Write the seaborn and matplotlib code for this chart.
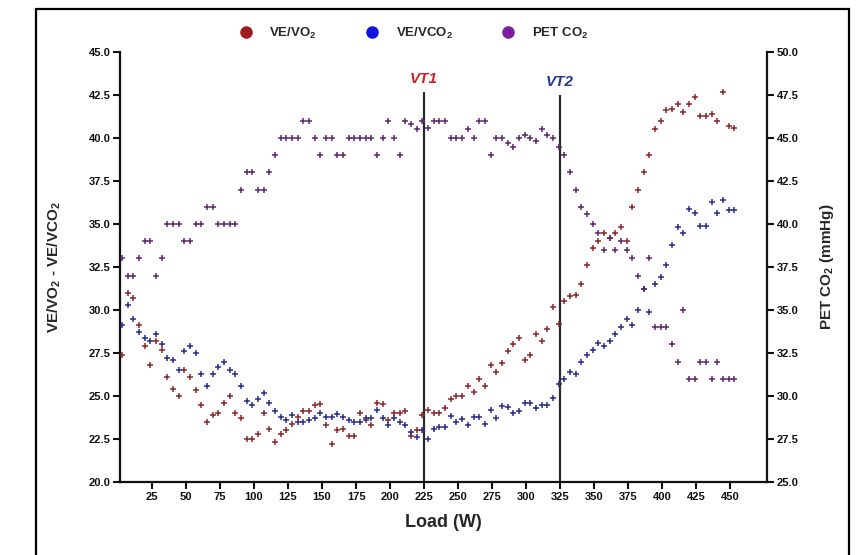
import numpy as np
import pandas as pd
import matplotlib.pyplot as plt
import seaborn as sns
from matplotlib.lines import Line2D
from matplotlib.patches import Rectangle

# Data (one sample roughly every 4 W)
load_w = [3.0, 7.2, 11.3, 15.5, 19.7, 23.8, 28.0, 32.2, 36.3, 40.5,
          44.7, 48.8, 53.0, 57.2, 61.3, 65.5, 69.7, 73.8, 78.0, 82.2,
          86.3, 90.5, 94.7, 98.8, 103.0, 107.2, 111.3, 115.5, 119.7, 123.8,
          128.0, 132.2, 136.3, 140.5, 144.7, 148.8, 153.0, 157.2, 161.3, 165.5,
          169.7, 173.8, 178.0, 182.2, 186.3, 190.5, 194.7, 198.8, 203.0, 207.2,
          211.3, 215.5, 219.7, 223.8, 228.0, 232.2, 236.3, 240.5, 244.7, 248.8,
          253.0, 257.2, 261.3, 265.5, 269.7, 273.8, 278.0, 282.2, 286.3, 290.5,
          294.7, 298.8, 303.0, 307.2, 311.3, 315.5, 319.7, 323.8, 328.0, 332.2,
          336.3, 340.5, 344.7, 348.8, 353.0, 357.2, 361.3, 365.5, 369.7, 373.8,
          378.0, 382.2, 386.3, 390.5, 394.7, 398.8, 403.0, 407.2, 411.3, 415.5,
          419.7, 423.8, 428.0, 432.2, 436.3, 440.5, 444.7, 448.8, 453.0]

ve_vo2 = [27.4, 31.0, 30.7, 29.1, 27.9, 26.8, 28.2, 27.7, 26.1, 25.4,
          25.0, 26.5, 26.1, 25.35, 24.5, 23.5, 23.9, 24.0, 24.6, 25.0,
          24.0, 23.7, 22.5, 22.5, 22.8, 24.0, 23.1, 22.3, 22.8, 23.0,
          23.4, 23.8, 24.1, 24.1, 24.5, 24.55, 23.3, 22.2, 23.0, 23.1,
          22.7, 22.7, 24.0, 23.6, 23.3, 24.6, 24.55, 23.6, 24.0, 24.0,
          24.1, 22.7, 23.05, 23.9, 24.2, 24.0, 24.0, 24.3, 24.8, 25.0,
          25.0, 25.6, 25.25, 26.0, 25.6, 26.8, 26.4, 26.9, 27.6, 28.0,
          28.35, 27.1, 27.4, 28.6, 28.2, 28.9, 30.2, 29.2, 30.5, 30.8,
          30.9, 31.5, 32.6, 33.6, 34.0, 34.5, 34.2, 34.5, 34.8, 34.0,
          36.0, 37.0, 38.0, 39.0, 40.5, 41.0, 41.6, 41.7, 42.0, 41.5,
          42.0, 42.4, 41.3, 41.3, 41.4, 41.0, 42.7, 40.7, 40.6]

ve_vco2 = [29.1, 30.3, 29.5, 28.7, 28.35, 28.2, 28.6, 28.0, 27.2, 27.1,
           26.5, 27.6, 27.9, 27.5, 26.3, 25.6, 26.3, 26.7, 26.95, 26.5,
           26.3, 25.6, 24.7, 24.5, 24.8, 25.2, 24.6, 24.1, 23.8, 23.6,
           23.9, 23.5, 23.5, 23.6, 23.7, 24.0, 23.8, 23.8, 23.95, 23.8,
           23.6, 23.5, 23.5, 23.7, 23.7, 24.2, 23.7, 23.3, 23.7, 23.5,
           23.3, 22.9, 22.6, 23.0, 22.5, 23.1, 23.2, 23.2, 23.85, 23.5,
           23.65, 23.3, 23.8, 23.8, 23.4, 24.2, 23.75, 24.4, 24.35, 24.0,
           24.1, 24.6, 24.6, 24.3, 24.5, 24.5, 24.9, 25.7, 26.0, 26.4,
           26.3, 27.0, 27.4, 27.7, 28.1, 27.9, 28.2, 28.6, 29.0, 29.45,
           29.1, 30.0, 31.2, 29.9, 31.5, 31.9, 32.6, 33.8, 34.8, 34.5,
           35.85, 35.65, 34.9, 34.9, 36.3, 35.65, 36.4, 35.8, 35.8]

pet_co2 = [38, 37, 37, 38, 39, 39, 37, 38, 40, 40,
           40, 39, 39, 40, 40, 41, 41, 40, 40, 40,
           40, 42, 43, 43, 42, 42, 43, 44, 45, 45,
           45, 45, 46, 46, 45, 44, 45, 45, 44, 44,
           45, 45, 45, 45, 45, 44, 45, 46, 45, 44,
           46, 45.8, 45.5, 46, 45.6, 46, 46, 46, 45, 45,
           45, 45.5, 45, 46, 46, 44, 45, 45, 44.7, 44.5,
           45, 45.2, 45, 44.8, 45.5, 45.2, 45, 44.5, 44, 43,
           42, 41, 40.6, 40, 39.5, 38.5, 39.2, 38.5, 39, 38.5,
           38, 37, 36.2, 38, 34, 34, 34, 33, 32, 35,
           31, 31, 32, 32, 31, 32, 31, 31, 31]

left_ticks = [20.0, 22.5, 25.0, 27.5, 30.0, 32.5, 35.0, 37.5, 40.0, 42.5, 45.0]
right_ticks = [25.0, 27.5, 30.0, 32.5, 35.0, 37.5, 40.0, 42.5, 45.0, 47.5, 50.0]
x_ticks = [25, 50, 75, 100, 125, 150, 175, 200, 225, 250, 275, 300, 325,
           350, 375, 400, 425, 450]

thresholds = [225, 325]
threshold_names = ['VT1', 'VT2']
threshold_tops = [42.7, 42.5]
threshold_colors = ['#c8232c', '#2a3590']

series_names = ['VE/VO$_2$', 'VE/VCO$_2$', 'PET CO$_2$']
marker_colors = ['#8a2a2e', '#2b2f8c', '#5e2a6e']
legend_colors = ['#9e1b22', '#1212e0', '#7d1f9c']

sns.set_theme(style='ticks')
plt.rcParams['font.family'] = ['Liberation Sans', 'DejaVu Sans']
plt.rcParams['font.weight'] = 'bold'
plt.rcParams['mathtext.fontset'] = 'custom'
plt.rcParams['mathtext.rm'] = 'Liberation Sans:bold'
plt.rcParams['mathtext.default'] = 'rm'

df = pd.DataFrame({'load': load_w, 've_vo2': ve_vo2,
                   've_vco2': ve_vco2, 'pet_co2': pet_co2})

fig = plt.figure(figsize=(8.64, 5.55), dpi=100)
ax = fig.add_axes([120 / 864, 1 - 482 / 555, 647 / 864, 430 / 555])
ax2 = ax.twinx()

sns.scatterplot(data=df, x='load', y='ve_vo2', marker='+', color=marker_colors[0],
                s=13, linewidth=1.1, ax=ax, legend=False, zorder=3)
sns.scatterplot(data=df, x='load', y='ve_vco2', marker='+', color=marker_colors[1],
                s=13, linewidth=1.1, ax=ax, legend=False, zorder=3)
sns.scatterplot(data=df, x='load', y='pet_co2', marker='+', color=marker_colors[2],
                s=13, linewidth=1.1, ax=ax2, legend=False, zorder=3)

# threshold lines
ax.vlines(thresholds, 20, threshold_tops, color='#2a2a2a', lw=1.6, zorder=2)
for xv, name, top, col in zip(thresholds, threshold_names, threshold_tops, threshold_colors):
    ax.text(xv, top + 0.75, name, color=col, style='italic', weight='bold',
            ha='center', va='center', fontsize=11)

ax.set_xlim(1.5, 477)
ax.set_ylim(20, 45)
ax2.set_ylim(25, 50)
ax.set_xticks(x_ticks)
ax.set_yticks(left_ticks)
ax2.set_yticks(right_ticks)
ax.set_yticklabels([f'{t:.1f}' for t in left_ticks])
ax2.set_yticklabels([f'{t:.1f}' for t in right_ticks])

for a in (ax, ax2):
    a.spines['top'].set_visible(False)
    for sp in a.spines.values():
        sp.set_linewidth(1.6)
        sp.set_color('#111111')
    a.tick_params(direction='out', length=5, width=1.5, labelsize=8, pad=2, colors='#111111')
    a.grid(False)
ax.spines['right'].set_visible(False)
ax2.spines['left'].set_visible(False)
ax2.spines['bottom'].set_visible(False)

ax.set_xlabel('Load (W)', fontsize=13, weight='bold')
ax.set_ylabel('VE/VO$_2$ - VE/VCO$_2$', fontsize=11, weight='bold')
ax2.set_ylabel('PET CO$_2$ (mmHg)', fontsize=11, weight='bold')
ax.xaxis.set_label_coords(0.5, -0.075)
ax.yaxis.set_label_coords(-0.088, 0.5)
ax2.yaxis.set_label_coords(1.079, 0.5)

handles = [Line2D([], [], marker='o', ls='', color=c, markersize=8) for c in legend_colors]
fig.legend(handles, series_names, loc='center', bbox_to_anchor=(0.475, 0.94), ncol=3,
           frameon=False, fontsize=9.5, columnspacing=3.2, handletextpad=0.8)

# outer frame
fig.add_artist(Rectangle((36 / 864, -0.1), 813 / 864, 1.0838, transform=fig.transFigure,
                         fill=False, edgecolor='black', lw=1.6, clip_on=False))

fig.savefig('out.png', dpi=100)
